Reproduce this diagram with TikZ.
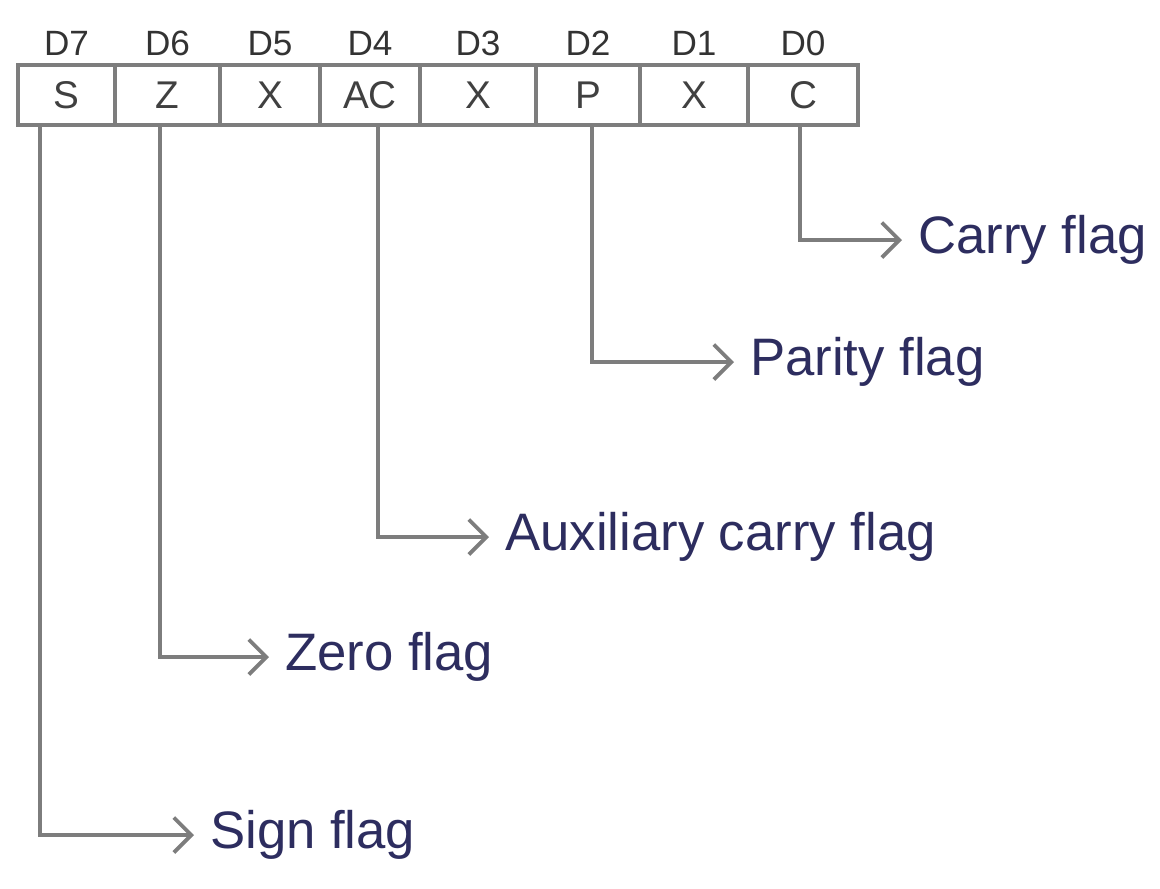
\documentclass[tikz,border=0pt]{standalone}
\usepackage{fontspec}
\setmainfont{Liberation Sans}
\usetikzlibrary{arrows.meta,positioning}
\definecolor{pencil}{RGB}{125,125,125}
\definecolor{ink}{RGB}{45,45,95}
\tikzset{
  bitcell/.style={draw=pencil, line width=2pt, minimum height=12mm,
                  inner sep=0pt, outer sep=0pt, text=black!75,
                  font=\fontsize{22}{24}\selectfont},
  bitlbl/.style={font=\fontsize{20}{22}\selectfont, text=black!80, inner sep=1pt},
  flaglbl/.style={anchor=west, text=ink, font=\fontsize{30}{32}\selectfont},
  flagline/.style={draw=pencil, line width=2.2pt, shorten >=2mm,
                   -{Straight Barb[length=3.5mm, width=7mm, line width=2.2pt]}},
}
\begin{document}
\begin{tikzpicture}[x=0.2mm, y=-0.2mm]
    \useasboundingbox (0,0) rectangle (1160,888);
    % register cells D7 .. D0
    \node[bitcell, minimum width=19.4mm] (s) at (66.5,95) {S};
    \node[bitcell, minimum width=21mm, right=0pt of s] (z) {Z};
    \node[bitcell, minimum width=20mm, right=0pt of z] (x5) {X};
    \node[bitcell, minimum width=20mm, right=0pt of x5] (ac) {AC};
    \node[bitcell, minimum width=23.2mm, right=0pt of ac] (x3) {X};
    \node[bitcell, minimum width=20.8mm, right=0pt of x3] (p) {P};
    \node[bitcell, minimum width=21.6mm, right=0pt of p] (x1) {X};
    \node[bitcell, minimum width=22mm, right=0pt of x1] (c) {C};
    % bit numbers
    \node[bitlbl, above=1.5mm of s] (d7) {D7};
    \node[bitlbl, above=1.5mm of z] (d6) {D6};
    \node[bitlbl, above=1.5mm of x5] (d5) {D5};
    \node[bitlbl, above=1.5mm of ac] (d4) {D4};
    \node[bitlbl, above=1.5mm of x3] (d3) {D3};
    \node[bitlbl, above=1.5mm of p] (d2) {D2};
    \node[bitlbl, above=1.5mm of x1] (d1) {D1};
    \node[bitlbl, above=1.5mm of c] (d0) {D0};
    % flag names
    \node[flaglbl] (cy) at (912,240) {Carry flag};
    \node[flaglbl] (par) at (744,362) {Parity flag};
    \node[flaglbl] (aux) at (499,537) {Auxiliary carry flag};
    \node[flaglbl] (zer) at (279,657) {Zero flag};
    \node[flaglbl] (sgn) at (204,835) {Sign flag};
    \draw[flagline] ([xshift=-0.6mm]c.south) |- (cy.west);
    \draw[flagline] ([xshift=0.8mm]p.south) |- (par.west);
    \draw[flagline] ([xshift=1.6mm]ac.south) |- (aux.west);
    \draw[flagline] ([xshift=-1.5mm]z.south) |- (zer.west);
    \draw[flagline] ([xshift=-5.3mm]s.south) |- (sgn.west);
\end{tikzpicture}
\end{document}
